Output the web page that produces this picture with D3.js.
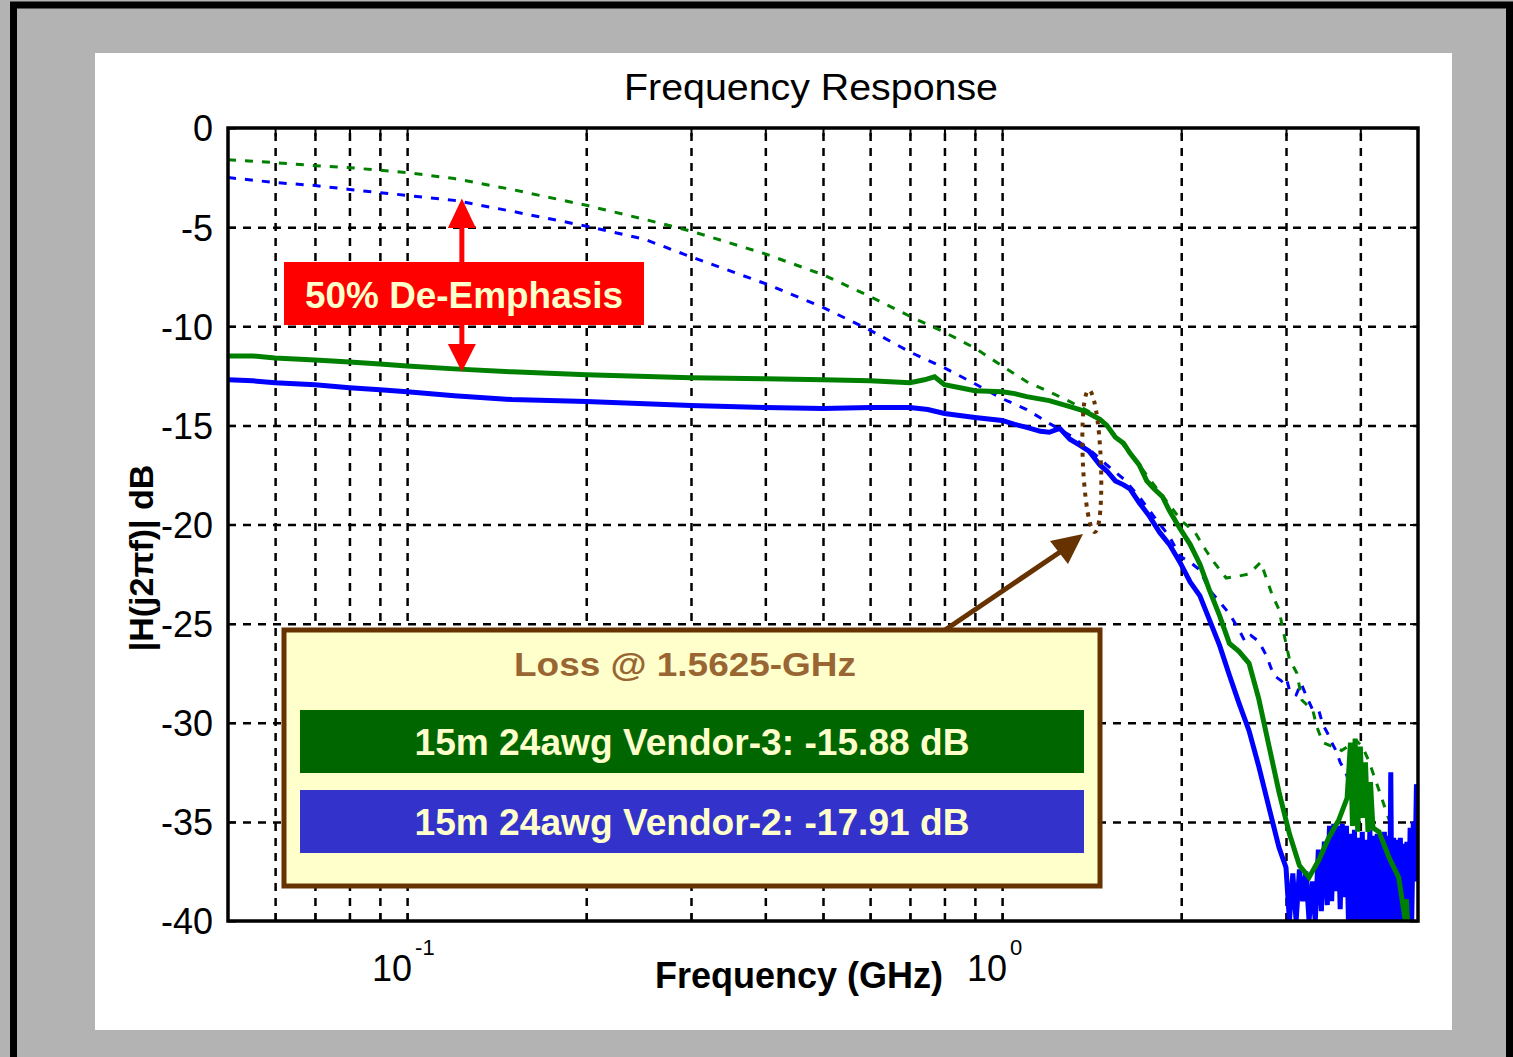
<!DOCTYPE html>
<html>
<head>
<meta charset="utf-8">
<script src="https://cdn.jsdelivr.net/npm/d3@7"></script>
<style>
body { margin: 0; background: #b3b3b3; }
svg { display: block; }
</style>
</head>
<body>
<script>
const svgWidth = 1513
const svgHeight = 1057

const margin = { top: 128, left: 228 }
const chartWidth = 1190
const chartHeight = 793

// axis ticks
const gridFreqs = [0.06, 0.07, 0.08, 0.09, 0.1, 0.2, 0.3, 0.4, 0.5, 0.6, 0.7, 0.8, 0.9, 1, 2, 3, 4]
const majorFreqs = [0.1, 1]
const majorExps = ["-1", "0"]
const dbTicks = [0, -5, -10, -15, -20, -25, -30, -35, -40]
const dbLabels = ["0", "-5", "-10", "-15", "-20", "-25", "-30", "-35", "-40"]

// Vendor-3, with de-emphasis (green solid)
const v3Freq = [0.05, 0.055, 0.06, 0.07, 0.08, 0.09, 0.1, 0.12, 0.15, 0.2, 0.3, 0.4, 0.5, 0.6, 0.7, 0.74, 0.77, 0.8, 0.85, 0.9,
    1.0, 1.05, 1.1, 1.2, 1.3, 1.35, 1.4, 1.46, 1.5, 1.55, 1.6, 1.64, 1.7, 1.75, 1.8, 1.86, 1.91, 1.99, 2.07, 2.15,
    2.23, 2.32, 2.41, 2.5, 2.6, 2.7, 2.81, 2.92, 3.04, 3.16, 3.28, 3.41, 3.54, 3.68, 3.8, 3.85, 3.88, 3.92, 3.96, 4.0,
    4.04, 4.08, 4.12, 4.16, 4.2, 4.3, 4.47, 4.64, 4.76, 4.78, 4.8]
const v3Db = [-11.5, -11.5, -11.6, -11.7, -11.8, -11.9, -12.0, -12.15, -12.3, -12.45, -12.6, -12.65, -12.7, -12.75, -12.85, -12.7, -12.55, -12.95, -13.1, -13.25,
    -13.3, -13.4, -13.55, -13.75, -14.05, -14.2, -14.4, -14.7, -15.0, -15.6, -15.9, -16.4, -17.0, -17.8, -18.2, -18.6, -19.3, -20.2, -21.0, -22.0,
    -23.3, -24.6, -26.0, -26.4, -27.0, -28.8, -31.2, -33.5, -35.6, -37.2, -37.8, -36.9, -35.8, -34.9, -33.8, -31.0, -35.2, -30.8, -35.5, -31.2,
    -34.8, -32.0, -35.5, -33.0, -35.3, -35.5, -36.8, -37.8, -40, -38.9, -40]

// Vendor-2, with de-emphasis (blue solid)
const v2Freq = [0.05, 0.055, 0.06, 0.07, 0.08, 0.09, 0.1, 0.12, 0.15, 0.2, 0.3, 0.4, 0.5, 0.6, 0.7, 0.75, 0.8, 0.9,
    1.0, 1.05, 1.1, 1.16, 1.2, 1.25, 1.3, 1.35, 1.4, 1.46, 1.5, 1.55, 1.6, 1.64, 1.7, 1.77, 1.84, 1.91, 1.99, 2.07, 2.15,
    2.23, 2.32, 2.41, 2.5, 2.6, 2.7, 2.81, 2.92, 3.0, 3.04, 3.08, 3.12, 3.16, 3.2, 3.24, 3.28, 3.32, 3.36, 3.4, 3.44, 3.48,
    3.52, 3.55, 3.58, 3.61, 3.64, 3.67, 3.7, 3.73, 3.76, 3.79, 3.82, 3.85, 3.88, 3.91, 3.94, 3.97, 4.0, 4.03, 4.06, 4.09,
    4.12, 4.15, 4.18, 4.21, 4.24, 4.27, 4.3, 4.33, 4.36, 4.39, 4.42, 4.46, 4.48, 4.5, 4.52, 4.55, 4.58, 4.61, 4.64, 4.67,
    4.7, 4.73, 4.76, 4.79, 4.82, 4.85, 4.88, 4.91, 4.94, 4.97, 5.0]
const v2Db = [-12.7, -12.75, -12.85, -12.95, -13.1, -13.2, -13.3, -13.5, -13.7, -13.8, -14.0, -14.1, -14.15, -14.1, -14.1, -14.2, -14.4, -14.6,
    -14.75, -14.95, -15.1, -15.3, -15.35, -15.15, -15.7, -16.0, -16.3, -17.0, -17.3, -17.8, -18.0, -18.2, -18.9, -19.6, -20.4, -21.0, -21.9, -22.9, -23.6,
    -24.8, -26.1, -27.6, -29.0, -30.4, -32.2, -34.3, -36.3, -37.3, -40, -37.6, -40, -37.4, -39, -37.5, -40, -38.0, -40, -36.4, -39.5, -36.0,
    -39.2, -35.2, -39.0, -35.1, -38.5, -35.2, -39.4, -35.1, -38.8, -35.2, -40, -35.6, -40, -35.4, -40, -35.8, -40, -35.5, -40, -35.9,
    -40, -35.4, -40, -35.7, -40, -35.6, -40, -35.8, -40, -35.5, -40, -35.7, -40, -32.5, -40, -35.8, -40, -35.9, -40, -35.8,
    -40, -36.1, -40, -36.0, -40, -35.3, -40, -35.0, -38, -33.1, -34]

// Vendor-3, channel only (green dotted)
const v3RawFreq = [0.05, 0.06, 0.07, 0.08, 0.1, 0.12, 0.15, 0.2, 0.25, 0.3, 0.4, 0.5, 0.6, 0.7, 0.8, 0.9, 1.0, 1.1, 1.2, 1.3,
    1.4, 1.5, 1.6, 1.7, 1.8, 1.91, 2.0, 2.11, 2.2, 2.27, 2.38, 2.5, 2.6, 2.72, 2.78, 2.84, 2.92, 2.96, 3.0, 3.04,
    3.13, 3.19, 3.33, 3.38, 3.46, 3.72, 3.94, 4.03, 4.13, 4.3, 4.47]
const v3RawDb = [-1.6, -1.75, -1.9, -2.0, -2.25, -2.55, -3.1, -3.9, -4.6, -5.2, -6.35, -7.4, -8.5, -9.5, -10.3, -11.1, -12.0, -12.8, -13.3, -13.8,
    -14.3, -15.0, -16.0, -17.0, -18.0, -19.0, -19.8, -20.4, -21.3, -21.9, -22.7, -22.6, -22.5, -21.9, -22.7, -23.5, -24.3, -25.2, -26.0, -26.8,
    -27.5, -28.85, -29.4, -30.2, -31.0, -31.4, -30.9, -31.2, -31.9, -33.4, -34.9]

// Vendor-2, channel only (blue dotted)
const v2RawFreq = [0.05, 0.06, 0.07, 0.08, 0.1, 0.12, 0.15, 0.2, 0.25, 0.3, 0.4, 0.5, 0.6, 0.7, 0.8, 0.9, 1.0, 1.1, 1.2, 1.3,
    1.4, 1.5, 1.6, 1.7, 1.8, 1.91, 1.99, 2.07, 2.15, 2.23, 2.32, 2.41, 2.5, 2.56, 2.62, 2.7, 2.78, 2.86, 2.95, 3.0,
    3.05, 3.12, 3.18, 3.24, 3.32, 3.4, 3.46, 3.52, 3.58, 3.64, 3.7, 3.78, 3.86, 3.95, 4.05, 4.2]
const v2RawDb = [-2.5, -2.75, -2.9, -3.1, -3.4, -3.65, -4.2, -4.95, -5.6, -6.5, -7.85, -9.05, -10.2, -11.3, -12.1, -12.9, -13.65, -14.2, -14.9, -15.5,
    -16.2, -17.0, -17.7, -18.6, -19.6, -20.6, -21.6, -21.9, -22.3, -23.3, -23.9, -24.5, -25.3, -25.9, -25.6, -25.9, -26.6, -27.6, -27.9, -27.7,
    -28.5, -28.6, -28.0, -28.6, -29.3, -29.3, -30.1, -30.5, -31.0, -31.4, -32.0, -32.5, -33.3, -34.0, -34.6, -35.2]

const svg = d3.select("body").append("svg")
    .attr("width", svgWidth)
    .attr("height", svgHeight)

// outer gray frame and white panel
svg.append("rect")
    .attr("x", 13.5).attr("y", 5)
    .attr("width", 1496).attr("height", 1100)
    .attr("fill", "#b3b3b3")
    .attr("stroke", "#000")
    .attr("stroke-width", 7)

svg.append("rect")
    .attr("x", 95).attr("y", 53)
    .attr("width", 1357).attr("height", 977)
    .attr("fill", "#fff")

const chartG = svg.append("g")
    .attr("transform", `translate(${margin.left}, ${margin.top})`)

const x = d3.scaleLog()
    .domain([0.05, 5])
    .range([0, chartWidth])

const y = d3.scaleLinear()
    .domain([-40, 0])
    .range([chartHeight, 0])

// dashed grid
chartG.append("g")
    .attr("transform", `translate(0, ${chartHeight})`)
    .call(d3.axisBottom(x).tickValues(gridFreqs).tickSize(-chartHeight).tickFormat(""))
    .call(g => g.select(".domain").remove())
    .selectAll("line")
    .attr("stroke", "#000")
    .attr("stroke-width", 2.5)
    .attr("stroke-dasharray", "8,7")

chartG.append("g")
    .call(d3.axisLeft(y).tickValues(dbTicks.filter(d => d > -40 && d < 0)).tickSize(-chartWidth).tickFormat(""))
    .call(g => g.select(".domain").remove())
    .selectAll("line")
    .attr("stroke", "#000")
    .attr("stroke-width", 2.5)
    .attr("stroke-dasharray", "8,7")

// small inward ticks on all four sides
const tickStyle = g => {
    g.select(".domain").remove()
    g.selectAll("line").attr("stroke", "#000").attr("stroke-width", 2)
}
chartG.append("g").attr("transform", `translate(0, ${chartHeight})`)
    .call(d3.axisBottom(x).tickValues(gridFreqs).tickSize(-8).tickFormat("")).call(tickStyle)
chartG.append("g")
    .call(d3.axisTop(x).tickValues(gridFreqs).tickSize(-8).tickFormat("")).call(tickStyle)
chartG.append("g")
    .call(d3.axisLeft(y).tickValues(dbTicks).tickSize(-8).tickFormat("")).call(tickStyle)
chartG.append("g").attr("transform", `translate(${chartWidth}, 0)`)
    .call(d3.axisRight(y).tickValues(dbTicks).tickSize(-8).tickFormat("")).call(tickStyle)

// y tick labels
chartG.append("g")
    .call(d3.axisLeft(y).tickValues(dbTicks).tickSize(0).tickPadding(15).tickFormat((d, i) => dbLabels[i]))
    .call(g => g.select(".domain").remove())
    .selectAll("text")
    .attr("font-family", "'Liberation Sans', Arial, sans-serif")
    .attr("font-size", 36)
    .attr("fill", "#000")
    .attr("dy", "0.36em")

// x tick labels, 10^n
majorFreqs.forEach((f, i) => {
    const t = chartG.append("text")
        .attr("x", x(f) + 5)
        .attr("y", chartHeight + 60)
        .attr("text-anchor", "end")
        .attr("font-family", "'Liberation Sans', Arial, sans-serif")
        .attr("font-size", 36)
        .text("10")
    chartG.append("text")
        .attr("x", x(f) + 8)
        .attr("y", chartHeight + 34)
        .attr("font-family", "'Liberation Sans', Arial, sans-serif")
        .attr("font-size", 22)
        .text(majorExps[i])
})

// curves
chartG.append("clipPath").attr("id", "plotClip")
    .append("rect").attr("width", chartWidth).attr("height", chartHeight)

const line = d3.line()
    .x(d => x(d[0]))
    .y(d => y(d[1]))

const curves = chartG.append("g").attr("clip-path", "url(#plotClip)")

curves.append("path")
    .attr("d", line(d3.zip(v2RawFreq, v2RawDb)))
    .attr("fill", "none")
    .attr("stroke", "#0000ff")
    .attr("stroke-width", 3)
    .attr("stroke-dasharray", "8,9")

curves.append("path")
    .attr("d", line(d3.zip(v3RawFreq, v3RawDb)))
    .attr("fill", "none")
    .attr("stroke", "#008000")
    .attr("stroke-width", 3)
    .attr("stroke-dasharray", "8,9")

curves.append("path")
    .attr("d", line(d3.zip(v2Freq, v2Db)))
    .attr("fill", "none")
    .attr("stroke", "#0000ff")
    .attr("stroke-width", 5)

curves.append("path")
    .attr("d", line(d3.zip(v3Freq, v3Db)))
    .attr("fill", "none")
    .attr("stroke", "#008000")
    .attr("stroke-width", 5)

// plot frame
chartG.append("rect")
    .attr("width", chartWidth)
    .attr("height", chartHeight)
    .attr("fill", "none")
    .attr("stroke", "#000")
    .attr("stroke-width", 3.5)

// titles
svg.append("text")
    .attr("x", 811).attr("y", 100)
    .attr("text-anchor", "middle")
    .attr("font-family", "'Liberation Sans', Arial, sans-serif")
    .attr("font-size", 37)
    .attr("textLength", 374)
    .attr("lengthAdjust", "spacingAndGlyphs")
    .text("Frequency Response")

svg.append("text")
    .attr("x", 799).attr("y", 988)
    .attr("text-anchor", "middle")
    .attr("font-family", "'Liberation Sans', Arial, sans-serif")
    .attr("font-weight", "bold")
    .attr("font-size", 36)
    .text("Frequency (GHz)")

svg.append("text")
    .attr("transform", "translate(153, 558) rotate(-90)")
    .attr("text-anchor", "middle")
    .attr("font-family", "'Liberation Sans', Arial, sans-serif")
    .attr("font-weight", "bold")
    .attr("font-size", 34)
    .text("|H(j2\u03c0f)| dB")

// de-emphasis annotation
const red = "#ff0000"
const ax = x(0.1236)
chartG.append("rect")
    .attr("x", ax - 2.5).attr("y", y(-4.9)).attr("width", 5).attr("height", y(-10.9) - y(-4.9))
    .attr("fill", red)
chartG.append("path")
    .attr("d", `M${ax},${y(-3.55)} L${ax - 14},${y(-5.05)} L${ax + 14},${y(-5.05)} Z`)
    .attr("fill", red)
chartG.append("path")
    .attr("d", `M${ax},${y(-12.3)} L${ax - 14},${y(-10.9)} L${ax + 14},${y(-10.9)} Z`)
    .attr("fill", red)

svg.append("rect")
    .attr("x", 284).attr("y", 262).attr("width", 360).attr("height", 63)
    .attr("fill", red)
svg.append("text")
    .attr("x", 464).attr("y", 308)
    .attr("text-anchor", "middle")
    .attr("font-family", "'Liberation Sans', Arial, sans-serif")
    .attr("font-weight", "bold")
    .attr("font-size", 36)
    .attr("textLength", 318)
    .attr("lengthAdjust", "spacingAndGlyphs")
    .attr("fill", "#ffffcc")
    .text("50% De-Emphasis")

// loss marker ellipse + arrow
const brown = "#663300"
chartG.append("ellipse")
    .attr("transform", `translate(${x(1.415)}, ${y(-16.8)}) rotate(-2.4)`)
    .attr("rx", 9).attr("ry", 71)
    .attr("fill", "none")
    .attr("stroke", brown)
    .attr("stroke-width", 4)
    .attr("stroke-dasharray", "4,6")

svg.append("line")
    .attr("x1", 945).attr("y1", 630).attr("x2", 1066).attr("y2", 548)
    .attr("stroke", brown)
    .attr("stroke-width", 5)
svg.append("path")
    .attr("d", "M1083,534 L1050,541 L1068,564 Z")
    .attr("fill", brown)

// loss box
svg.append("rect")
    .attr("x", 284).attr("y", 630).attr("width", 816).attr("height", 256)
    .attr("fill", "#ffffcc")
    .attr("stroke", brown)
    .attr("stroke-width", 5)

svg.append("text")
    .attr("x", 685).attr("y", 676)
    .attr("text-anchor", "middle")
    .attr("font-family", "'Liberation Sans', Arial, sans-serif")
    .attr("font-weight", "bold")
    .attr("font-size", 34)
    .attr("textLength", 342)
    .attr("lengthAdjust", "spacingAndGlyphs")
    .attr("fill", "#996633")
    .text("Loss @ 1.5625-GHz")

const legendRows = [
    { label: "15m 24awg Vendor-3: -15.88 dB", fill: "#006600", top: 710 },
    { label: "15m 24awg Vendor-2: -17.91 dB", fill: "#3333cc", top: 790 }
]
legendRows.forEach(r => {
    svg.append("rect")
        .attr("x", 300).attr("y", r.top).attr("width", 784).attr("height", 63)
        .attr("fill", r.fill)
    svg.append("text")
        .attr("x", 692).attr("y", r.top + 45)
        .attr("text-anchor", "middle")
        .attr("font-family", "'Liberation Sans', Arial, sans-serif")
        .attr("font-weight", "bold")
        .attr("font-size", 36)
        .attr("textLength", 555)
        .attr("lengthAdjust", "spacingAndGlyphs")
        .attr("fill", "#ffffcc")
        .text(r.label)
})
</script>
</body>
</html>
